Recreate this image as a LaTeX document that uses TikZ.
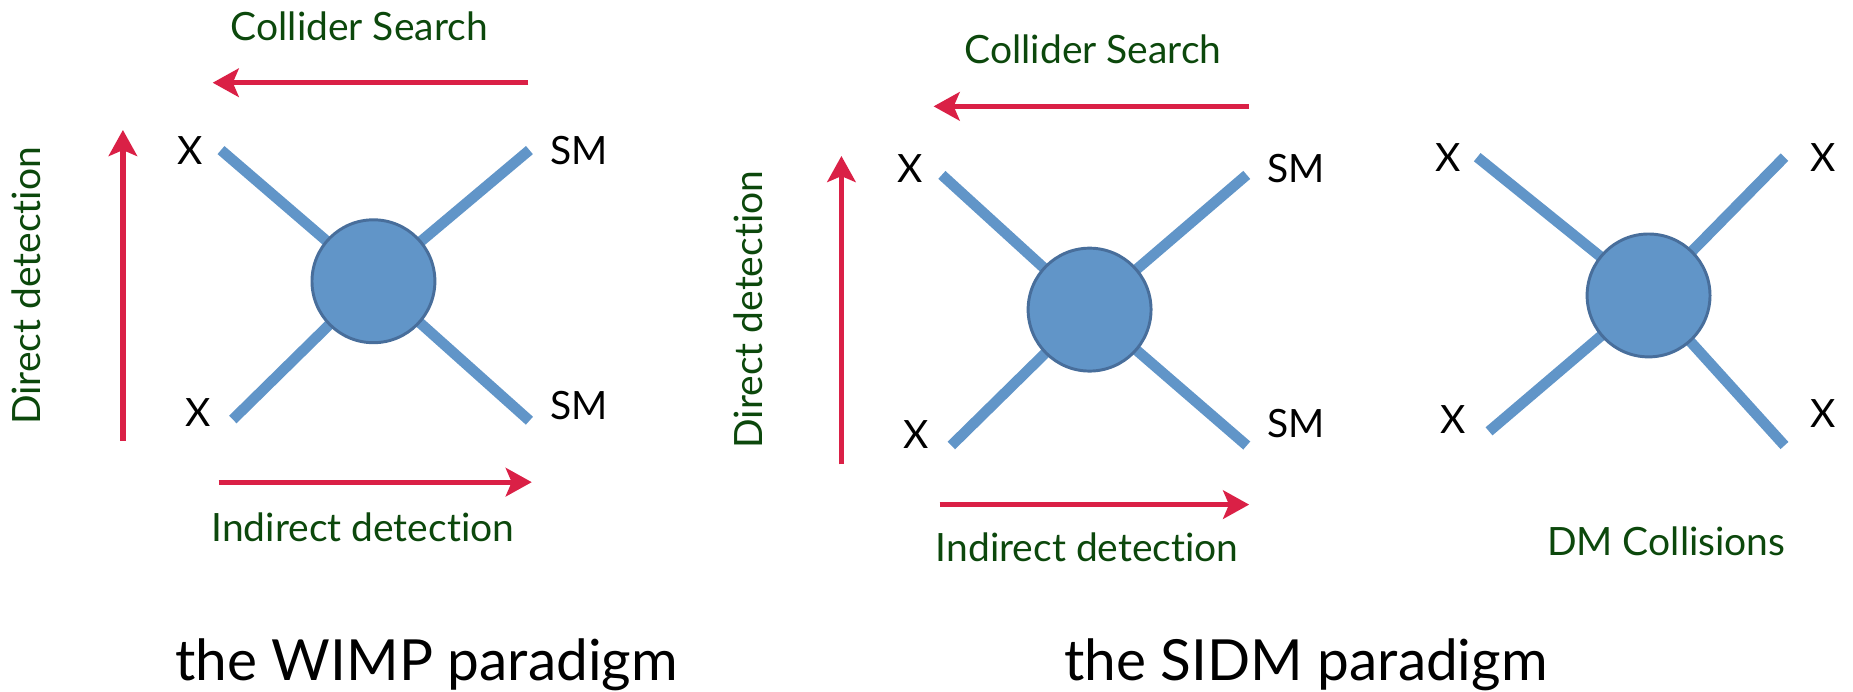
\documentclass[tikz,border=0pt]{standalone}
\usepackage{fontspec}
\setmainfont[Ligatures=NoCommon]{Lato}
\usetikzlibrary{arrows.meta}
\definecolor{legblue}{RGB}{97,149,200}
\definecolor{rimblue}{RGB}{72,110,155}
\definecolor{arrred}{RGB}{218,32,70}
\definecolor{lblgreen}{RGB}{12,72,12}
\pgfdeclarelayer{bg}\pgfsetlayers{bg,main}
\begin{document}
\begin{tikzpicture}[x=1pt,y=-1pt,
  leg/.style={line width=9pt, draw=legblue},
  blob/.style={circle, minimum size=104pt, inner sep=0pt, fill=legblue, draw=rimblue, line width=2.5pt},
  redarr/.style={draw=arrred, line width=4.5pt, -{Stealth[length=22pt,width=24pt,inset=5pt]}},
  lbl/.style={font=\fontsize{33}{36}\selectfont, text=lblgreen, inner sep=0pt},
  ptl/.style={font=\fontsize{33}{36}\selectfont, text=black, inner sep=0pt},
  ttl/.style={font=\fontsize{48}{52}\selectfont, text=black, inner sep=0pt}]
\useasboundingbox (0,0) rectangle (1568,585);

% ---------- WIMP diagram ----------
\node[blob] (c1) at (316,238) {};
\coordinate (a1) at (187,127);
\coordinate (b1) at (448,127);
\coordinate (d1) at (197,355);
\coordinate (e1) at (448,356);
\begin{pgfonlayer}{bg}
\draw[leg] (a1) -- (c1.center);
\draw[leg] (b1) -- (c1.center);
\draw[leg] (d1) -- (c1.center);
\draw[leg] (e1) -- (c1.center);
\end{pgfonlayer}
\node[ptl] (x1a) at (161,127) {X};
\node[ptl] (s1a) at (490,127) {SM};
\node[ptl] (x1b) at (168,349) {X};
\node[ptl] (s1b) at (490,343) {SM};

\coordinate (t1s) at (447,70);
\coordinate (t1e) at (180,70);
\draw[redarr] (t1s) -- (t1e);
\coordinate (v1s) at (104,373);
\coordinate (v1e) at (104,110);
\draw[redarr] (v1s) -- (v1e);
\coordinate (h1s) at (185,408);
\coordinate (h1e) at (450,408);
\draw[redarr] (h1s) -- (h1e);

\node[lbl, anchor=base] (col1) at (304,34) {Collider Search};
\node[lbl, anchor=base] (ind1) at (307,458) {Indirect detection};
\node[lbl, rotate=90] (dir1) at (22,242) {Direct detection};
\node[ttl, anchor=base] (wimp) at (361,576) {the WIMP paradigm};

% ---------- SIDM diagram ----------
\node[blob] (c2) at (922,262) {};
\coordinate (a2) at (797,148);
\coordinate (b2) at (1055,148);
\coordinate (d2) at (805,377);
\coordinate (e2) at (1055,377);
\begin{pgfonlayer}{bg}
\draw[leg] (a2) -- (c2.center);
\draw[leg] (b2) -- (c2.center);
\draw[leg] (d2) -- (c2.center);
\draw[leg] (e2) -- (c2.center);
\end{pgfonlayer}
\node[ptl] (x2a) at (770,143) {X};
\node[ptl] (s2a) at (1097,143) {SM};
\node[ptl] (x2b) at (775,368) {X};
\node[ptl] (s2b) at (1097,358) {SM};

\coordinate (t2s) at (1057,90);
\coordinate (t2e) at (790,90);
\draw[redarr] (t2s) -- (t2e);
\coordinate (v2s) at (712,393);
\coordinate (v2e) at (712,132);
\draw[redarr] (v2s) -- (v2e);
\coordinate (h2s) at (795,427);
\coordinate (h2e) at (1057,427);
\draw[redarr] (h2s) -- (h2e);

\node[lbl, anchor=base] (col2) at (925,54) {Collider Search};
\node[lbl, anchor=base] (ind2) at (920,475) {Indirect detection};
\node[lbl, rotate=90] (dir2) at (633,262) {Direct detection};

% ---------- DM collisions ----------
\node[blob] (c3) at (1395,250) {};
\coordinate (a3) at (1250,133);
\coordinate (b3) at (1510,133);
\coordinate (d3) at (1260,365);
\coordinate (e3) at (1510,377);
\begin{pgfonlayer}{bg}
\draw[leg] (a3) -- (c3.center);
\draw[leg] (b3) -- (c3.center);
\draw[leg] (d3) -- (c3.center);
\draw[leg] (e3) -- (c3.center);
\end{pgfonlayer}
\node[ptl] (x3a) at (1225,133) {X};
\node[ptl] (x3b) at (1543,133) {X};
\node[ptl] (x3c) at (1230,355) {X};
\node[ptl] (x3d) at (1543,350) {X};
\node[lbl, anchor=base] (dmc) at (1410,470) {DM Collisions};
\node[ttl, anchor=base] (sidm) at (1105,576) {the SIDM paradigm};
\end{tikzpicture}
\end{document}
